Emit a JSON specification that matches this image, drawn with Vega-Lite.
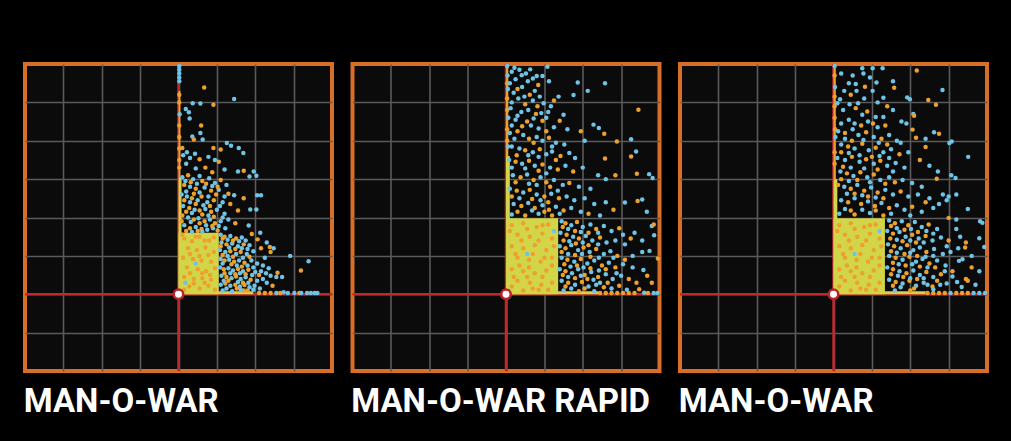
{
"$schema": "https://vega.github.io/schema/vega-lite/v6.json",
"background": "#000000",
"padding": {"left": 21, "top": 60, "right": 24, "bottom": 30},
"spacing": 12.5,
"config": {
  "view": {"fill": "#0b0b0b", "stroke": "#d86f28", "strokeWidth": 4},
  "axis": {"grid": true, "gridColor": "#5a5a5a", "gridWidth": 1.6, "labels": false, "ticks": false, "domain": false, "title": null},
  "title": {"font": "Roboto", "fontSize": 33, "fontWeight": "bold", "color": "#ffffff", "orient": "bottom", "anchor": "start", "offset": 14}
},
"datasets": {
"p1": [
{"x":0.02,"y":5.95,"c":"b"},{"x":0.02,"y":5.85,"c":"b"},{"x":0.02,"y":5.75,"c":"b"},{"x":0.02,"y":5.65,"c":"b"},{"x":0.02,"y":5.55,"c":"b"},{"x":0.03,"y":4.69,"c":"b"},{"x":0.02,"y":5.2,"c":"o"},{"x":0.02,"y":5.0,"c":"o"},{"x":0.02,"y":4.4,"c":"o"},{"x":0.02,"y":4.1,"c":"o"},{"x":0.02,"y":3.8,"c":"o"},{"x":0.02,"y":3.5,"c":"o"},{"x":0.02,"y":3.3,"c":"o"},
{"x":0.67,"y":5.39,"c":"o"},{"x":0.91,"y":4.94,"c":"o"},{"x":1.45,"y":5.09,"c":"b"},{"x":0.37,"y":4.98,"c":"b"},{"x":0.57,"y":4.97,"c":"b"},{"x":0.19,"y":4.83,"c":"b"},{"x":0.27,"y":4.74,"c":"b"},{"x":0.29,"y":4.58,"c":"b"},{"x":0.59,"y":4.40,"c":"o"},{"x":0.36,"y":4.11,"c":"b"},{"x":0.57,"y":4.20,"c":"b"},{"x":0.63,"y":4.03,"c":"b"},{"x":0.40,"y":4.03,"c":"o"},{"x":1.26,"y":3.94,"c":"b"},{"x":1.37,"y":3.87,"c":"b"},{"x":1.57,"y":3.81,"c":"b"},{"x":1.69,"y":3.68,"c":"b"},{"x":1.10,"y":3.77,"c":"o"},{"x":0.91,"y":3.81,"c":"o"},{"x":0.12,"y":3.62,"c":"b"},{"x":0.22,"y":3.70,"c":"b"},{"x":0.43,"y":3.66,"c":"b"},{"x":0.30,"y":3.55,"c":"b"},{"x":0.10,"y":3.81,"c":"o"},{"x":0.55,"y":3.52,"c":"o"},{"x":0.78,"y":3.58,"c":"b"},{"x":0.95,"y":3.50,"c":"b"},{"x":1.05,"y":3.45,"c":"o"},{"x":0.20,"y":3.40,"c":"b"},{"x":0.70,"y":3.30,"c":"o"},{"x":1.20,"y":3.25,"c":"b"},{"x":1.55,"y":3.20,"c":"b"},{"x":1.70,"y":3.22,"c":"o"},{"x":1.96,"y":3.20,"c":"b"},{"x":2.03,"y":3.09,"c":"b"},{"x":1.85,"y":3.07,"c":"b"},{"x":0.45,"y":3.28,"c":"b"},{"x":0.88,"y":3.18,"c":"o"},
{"x":0.10,"y":3.05,"c":"b"},{"x":0.25,"y":3.10,"c":"o"},{"x":0.38,"y":3.00,"c":"b"},{"x":0.55,"y":3.08,"c":"b"},{"x":0.62,"y":2.95,"c":"o"},{"x":0.80,"y":3.02,"c":"b"},{"x":0.95,"y":2.90,"c":"b"},{"x":1.10,"y":2.98,"c":"o"},{"x":1.25,"y":2.85,"c":"b"},{"x":0.15,"y":2.85,"c":"o"},{"x":0.30,"y":2.80,"c":"b"},{"x":0.45,"y":2.75,"c":"o"},{"x":0.68,"y":2.78,"c":"b"},{"x":0.85,"y":2.70,"c":"o"},{"x":1.05,"y":2.72,"c":"b"},{"x":1.30,"y":2.62,"c":"o"},{"x":1.45,"y":2.58,"c":"b"},{"x":2.05,"y":2.58,"c":"b"},{"x":2.15,"y":2.58,"c":"b"},{"x":1.70,"y":2.50,"c":"o"},{"x":0.08,"y":2.60,"c":"b"},{"x":0.22,"y":2.55,"c":"b"},{"x":0.35,"y":2.50,"c":"o"},{"x":0.50,"y":2.45,"c":"b"},{"x":0.60,"y":2.55,"c":"o"},{"x":0.75,"y":2.40,"c":"b"},{"x":0.92,"y":2.45,"c":"o"},{"x":1.15,"y":2.40,"c":"b"},{"x":1.35,"y":2.35,"c":"o"},{"x":0.12,"y":2.30,"c":"b"},{"x":0.28,"y":2.25,"c":"o"},{"x":0.42,"y":2.20,"c":"b"},{"x":0.55,"y":2.18,"c":"o"},{"x":0.70,"y":2.22,"c":"b"},{"x":0.85,"y":2.15,"c":"o"},{"x":1.00,"y":2.20,"c":"b"},{"x":1.20,"y":2.10,"c":"b"},{"x":1.55,"y":2.18,"c":"o"},{"x":1.87,"y":2.21,"c":"b"},{"x":2.03,"y":2.21,"c":"b"},{"x":0.10,"y":2.05,"c":"o"},{"x":0.25,"y":2.00,"c":"b"},{"x":0.40,"y":1.95,"c":"o"},{"x":0.52,"y":1.98,"c":"b"},{"x":0.68,"y":1.90,"c":"o"},{"x":0.82,"y":1.95,"c":"b"},{"x":0.95,"y":1.85,"c":"o"},{"x":1.10,"y":1.90,"c":"b"},{"x":1.30,"y":1.95,"c":"b"},{"x":1.48,"y":1.85,"c":"o"},{"x":1.83,"y":1.79,"c":"b"},{"x":0.15,"y":1.80,"c":"b"},{"x":0.30,"y":1.72,"c":"o"},{"x":0.45,"y":1.75,"c":"b"},{"x":0.60,"y":1.70,"c":"o"},{"x":0.75,"y":1.68,"c":"b"},{"x":0.90,"y":1.72,"c":"b"},{"x":1.02,"y":1.66,"c":"o"},{"x":0.35,"y":1.62,"c":"b"},{"x":0.62,"y":1.63,"c":"b"},{"x":0.20,"y":1.65,"c":"o"},
{"x":0.18,"y":2.95,"c":"b"},{"x":0.32,"y":2.92,"c":"o"},{"x":0.48,"y":2.88,"c":"b"},{"x":0.72,"y":2.88,"c":"o"},{"x":0.88,"y":2.82,"c":"b"},{"x":1.02,"y":2.80,"c":"o"},{"x":0.20,"y":2.68,"c":"b"},{"x":0.40,"y":2.62,"c":"o"},{"x":0.55,"y":2.65,"c":"b"},{"x":0.78,"y":2.55,"c":"b"},{"x":0.98,"y":2.60,"c":"o"},{"x":1.20,"y":2.55,"c":"b"},{"x":0.15,"y":2.45,"c":"o"},{"x":0.30,"y":2.40,"c":"b"},{"x":0.45,"y":2.35,"c":"o"},{"x":0.65,"y":2.32,"c":"b"},{"x":0.82,"y":2.30,"c":"o"},{"x":1.08,"y":2.30,"c":"b"},{"x":0.20,"y":2.15,"c":"o"},{"x":0.35,"y":2.12,"c":"b"},{"x":0.62,"y":2.08,"c":"o"},{"x":0.78,"y":2.05,"c":"b"},{"x":0.92,"y":2.02,"c":"o"},{"x":1.15,"y":2.00,"c":"b"},{"x":0.08,"y":1.90,"c":"o"},{"x":0.32,"y":1.88,"c":"b"},{"x":0.55,"y":1.85,"c":"o"},{"x":0.72,"y":1.80,"c":"b"},{"x":0.88,"y":1.78,"c":"o"},{"x":1.05,"y":1.78,"c":"b"},{"x":1.22,"y":1.72,"c":"b"},{"x":0.50,"y":1.65,"c":"o"},
{"x":1.10,"y":1.55,"c":"b"},{"x":1.20,"y":1.50,"c":"o"},{"x":1.35,"y":1.52,"c":"b"},{"x":1.50,"y":1.45,"c":"o"},{"x":1.65,"y":1.48,"c":"b"},{"x":2.13,"y":1.60,"c":"b"},{"x":1.91,"y":1.57,"c":"o"},{"x":2.06,"y":1.43,"c":"o"},{"x":1.12,"y":1.35,"c":"b"},{"x":1.25,"y":1.30,"c":"o"},{"x":1.40,"y":1.32,"c":"b"},{"x":1.55,"y":1.25,"c":"b"},{"x":1.70,"y":1.30,"c":"o"},{"x":1.85,"y":1.28,"c":"b"},{"x":1.08,"y":1.15,"c":"b"},{"x":1.22,"y":1.10,"c":"b"},{"x":1.35,"y":1.12,"c":"o"},{"x":1.50,"y":1.05,"c":"b"},{"x":1.62,"y":1.10,"c":"o"},{"x":1.78,"y":1.05,"c":"b"},{"x":1.95,"y":1.12,"c":"b"},{"x":2.38,"y":1.23,"c":"o"},{"x":2.40,"y":1.10,"c":"o"},{"x":2.48,"y":1.20,"c":"b"},{"x":1.10,"y":0.92,"c":"b"},{"x":1.20,"y":0.88,"c":"o"},{"x":1.32,"y":0.90,"c":"b"},{"x":1.45,"y":0.85,"c":"o"},{"x":1.58,"y":0.88,"c":"b"},{"x":1.72,"y":0.82,"c":"o"},{"x":1.90,"y":0.88,"c":"b"},{"x":2.05,"y":0.80,"c":"b"},{"x":2.20,"y":0.75,"c":"b"},{"x":2.91,"y":1.00,"c":"b"},{"x":3.39,"y":0.86,"c":"b"},{"x":3.19,"y":0.62,"c":"o"},{"x":1.08,"y":0.70,"c":"b"},{"x":1.18,"y":0.65,"c":"o"},{"x":1.30,"y":0.68,"c":"b"},{"x":1.42,"y":0.62,"c":"b"},{"x":1.55,"y":0.66,"c":"o"},{"x":1.68,"y":0.60,"c":"b"},{"x":1.82,"y":0.64,"c":"o"},{"x":2.00,"y":0.58,"c":"b"},{"x":2.15,"y":0.60,"c":"b"},{"x":2.28,"y":0.55,"c":"b"},{"x":2.58,"y":0.56,"c":"o"},{"x":2.40,"y":0.48,"c":"b"},{"x":2.55,"y":0.45,"c":"b"},{"x":1.12,"y":0.48,"c":"b"},{"x":1.25,"y":0.45,"c":"o"},{"x":1.38,"y":0.42,"c":"b"},{"x":1.50,"y":0.46,"c":"o"},{"x":1.62,"y":0.40,"c":"b"},{"x":1.75,"y":0.44,"c":"b"},{"x":1.88,"y":0.38,"c":"o"},{"x":2.05,"y":0.35,"c":"b"},{"x":2.20,"y":0.40,"c":"b"},{"x":2.70,"y":0.45,"c":"b"},{"x":1.10,"y":0.25,"c":"b"},{"x":1.22,"y":0.28,"c":"o"},{"x":1.35,"y":0.22,"c":"b"},{"x":1.48,"y":0.25,"c":"o"},{"x":1.60,"y":0.20,"c":"b"},{"x":1.72,"y":0.24,"c":"o"},{"x":1.85,"y":0.18,"c":"b"},{"x":1.98,"y":0.22,"c":"b"},{"x":2.45,"y":0.22,"c":"o"},{"x":2.12,"y":0.15,"c":"b"},{"x":1.15,"y":0.10,"c":"b"},{"x":1.40,"y":0.08,"c":"b"},{"x":1.70,"y":0.10,"c":"o"},
{"x":1.15,"y":1.45,"c":"o"},{"x":1.28,"y":1.42,"c":"b"},{"x":1.42,"y":1.40,"c":"o"},{"x":1.58,"y":1.38,"c":"b"},{"x":1.75,"y":1.40,"c":"b"},{"x":1.10,"y":1.25,"c":"o"},{"x":1.32,"y":1.22,"c":"b"},{"x":1.48,"y":1.18,"c":"o"},{"x":1.65,"y":1.20,"c":"b"},{"x":1.80,"y":1.18,"c":"b"},{"x":1.15,"y":1.02,"c":"o"},{"x":1.28,"y":1.00,"c":"b"},{"x":1.42,"y":0.98,"c":"o"},{"x":1.68,"y":0.95,"c":"b"},{"x":1.85,"y":0.98,"c":"o"},{"x":1.15,"y":0.80,"c":"b"},{"x":1.38,"y":0.78,"c":"o"},{"x":1.52,"y":0.75,"c":"b"},{"x":1.65,"y":0.72,"c":"o"},{"x":1.80,"y":0.75,"c":"b"},{"x":1.95,"y":0.70,"c":"b"},{"x":1.20,"y":0.55,"c":"o"},{"x":1.35,"y":0.55,"c":"b"},{"x":1.48,"y":0.52,"c":"o"},{"x":1.60,"y":0.55,"c":"b"},{"x":1.75,"y":0.52,"c":"o"},{"x":1.92,"y":0.50,"c":"b"},{"x":1.18,"y":0.35,"c":"b"},{"x":1.30,"y":0.35,"c":"o"},{"x":1.55,"y":0.32,"c":"b"},{"x":1.68,"y":0.30,"c":"o"},{"x":1.82,"y":0.30,"c":"b"},{"x":1.25,"y":0.15,"c":"b"},{"x":1.52,"y":0.15,"c":"o"},{"x":1.62,"y":0.12,"c":"b"},{"x":1.80,"y":0.10,"c":"o"},{"x":1.95,"y":0.12,"c":"b"},{"x":2.30,"y":0.30,"c":"b"},{"x":2.10,"y":0.50,"c":"o"},{"x":2.35,"y":0.68,"c":"b"},{"x":2.25,"y":0.95,"c":"b"},{"x":2.15,"y":1.20,"c":"o"},{"x":2.30,"y":1.35,"c":"b"},
{"x":2.10,"y":0.03,"c":"o"},{"x":2.25,"y":0.03,"c":"o"},{"x":2.40,"y":0.03,"c":"o"},{"x":2.55,"y":0.03,"c":"b"},{"x":2.65,"y":0.03,"c":"o"},{"x":2.74,"y":0.05,"c":"b"},{"x":2.85,"y":0.03,"c":"b"},{"x":3.02,"y":0.03,"c":"b"},{"x":3.15,"y":0.03,"c":"o"},{"x":3.20,"y":0.03,"c":"b"},{"x":3.35,"y":0.03,"c":"b"},{"x":3.45,"y":0.03,"c":"b"},{"x":3.55,"y":0.03,"c":"b"},{"x":3.62,"y":0.03,"c":"b"},
{"x":0.15,"y":1.45,"c":"o"},{"x":0.35,"y":1.38,"c":"o"},{"x":0.55,"y":1.50,"c":"o"},{"x":0.80,"y":1.40,"c":"o"},{"x":0.25,"y":1.20,"c":"o"},{"x":0.48,"y":1.15,"c":"o"},{"x":0.70,"y":1.22,"c":"o"},{"x":0.92,"y":1.10,"c":"o"},{"x":0.12,"y":0.95,"c":"o"},{"x":0.38,"y":0.92,"c":"o"},{"x":0.60,"y":0.88,"c":"o"},{"x":0.85,"y":0.85,"c":"o"},{"x":0.22,"y":0.70,"c":"o"},{"x":0.50,"y":0.65,"c":"o"},{"x":0.72,"y":0.60,"c":"o"},{"x":0.95,"y":0.68,"c":"o"},{"x":0.15,"y":0.45,"c":"o"},{"x":0.40,"y":0.40,"c":"o"},{"x":0.62,"y":0.42,"c":"o"},{"x":0.85,"y":0.38,"c":"o"},{"x":0.28,"y":0.20,"c":"o"},{"x":0.55,"y":0.15,"c":"o"},{"x":0.78,"y":0.22,"c":"o"},{"x":0.95,"y":0.12,"c":"o"},{"x":0.45,"y":0.80,"c":"b"},{"x":0.18,"y":0.30,"c":"b"},
{"x":0.10,"y":1.55,"c":"o"},{"x":0.45,"y":1.50,"c":"o"},{"x":0.68,"y":1.40,"c":"o"},{"x":0.92,"y":1.48,"c":"o"},{"x":0.30,"y":1.05,"c":"o"},{"x":0.55,"y":1.00,"c":"o"},{"x":0.78,"y":1.02,"c":"o"},{"x":0.30,"y":0.55,"c":"o"},{"x":0.62,"y":0.55,"c":"o"},{"x":0.82,"y":0.50,"c":"o"},{"x":0.40,"y":0.28,"c":"o"},{"x":0.68,"y":0.30,"c":"o"},{"x":0.15,"y":0.12,"c":"o"}
],
"p2": [
{"x":0.03,"y":5.95,"c":"b"},{"x":0.04,"y":5.7,"c":"b"},{"x":0.03,"y":5.5,"c":"o"},{"x":0.05,"y":5.35,"c":"b"},{"x":0.03,"y":5.1,"c":"o"},{"x":0.03,"y":4.8,"c":"o"},{"x":0.06,"y":4.6,"c":"b"},{"x":0.03,"y":4.3,"c":"o"},{"x":0.03,"y":4.0,"c":"o"},{"x":0.05,"y":3.85,"c":"b"},
{"x":0.63,"y":5.86,"c":"b"},{"x":1.08,"y":5.93,"c":"b"},{"x":0.41,"y":5.71,"c":"b"},{"x":0.80,"y":5.69,"c":"b"},{"x":0.95,"y":5.69,"c":"b"},{"x":0.15,"y":5.80,"c":"b"},{"x":0.25,"y":5.60,"c":"b"},{"x":0.57,"y":5.55,"c":"b"},{"x":0.84,"y":5.45,"c":"o"},{"x":1.12,"y":5.55,"c":"b"},{"x":1.87,"y":5.52,"c":"b"},{"x":2.58,"y":5.50,"c":"b"},{"x":2.13,"y":5.30,"c":"b"},{"x":1.76,"y":5.19,"c":"b"},{"x":1.37,"y":5.15,"c":"b"},{"x":0.62,"y":5.20,"c":"o"},{"x":0.20,"y":5.25,"c":"b"},{"x":0.32,"y":5.10,"c":"b"},{"x":0.50,"y":4.95,"c":"o"},{"x":0.70,"y":5.05,"c":"b"},{"x":0.98,"y":4.98,"c":"b"},{"x":1.17,"y":4.90,"c":"b"},{"x":1.25,"y":5.05,"c":"o"},{"x":3.45,"y":4.81,"c":"o"},{"x":0.12,"y":4.85,"c":"b"},{"x":0.40,"y":4.75,"c":"b"},{"x":0.78,"y":4.70,"c":"o"},{"x":0.92,"y":4.72,"c":"b"},{"x":1.05,"y":4.60,"c":"b"},{"x":1.50,"y":4.68,"c":"b"},{"x":1.40,"y":4.52,"c":"o"},{"x":0.25,"y":4.55,"c":"b"},{"x":0.55,"y":4.50,"c":"o"},{"x":0.65,"y":4.40,"c":"b"},{"x":1.25,"y":4.35,"c":"b"},{"x":1.60,"y":4.30,"c":"b"},{"x":2.28,"y":4.42,"c":"b"},{"x":2.42,"y":4.33,"c":"b"},{"x":1.95,"y":4.25,"c":"o"},
{"x":0.10,"y":4.20,"c":"b"},{"x":0.30,"y":4.25,"c":"o"},{"x":0.45,"y":4.15,"c":"b"},{"x":0.60,"y":4.05,"c":"o"},{"x":0.80,"y":4.10,"c":"b"},{"x":0.95,"y":4.00,"c":"b"},{"x":1.12,"y":4.08,"c":"o"},{"x":1.30,"y":3.95,"c":"b"},{"x":1.52,"y":3.90,"c":"b"},{"x":2.05,"y":4.00,"c":"b"},{"x":2.56,"y":4.18,"c":"o"},{"x":2.89,"y":3.98,"c":"o"},{"x":3.26,"y":4.04,"c":"b"},{"x":0.15,"y":3.85,"c":"b"},{"x":0.35,"y":3.80,"c":"b"},{"x":0.50,"y":3.75,"c":"o"},{"x":0.70,"y":3.70,"c":"b"},{"x":0.88,"y":3.78,"c":"o"},{"x":1.05,"y":3.65,"c":"b"},{"x":1.20,"y":3.72,"c":"b"},{"x":1.42,"y":3.60,"c":"o"},{"x":1.65,"y":3.68,"c":"b"},{"x":1.80,"y":3.55,"c":"b"},{"x":2.58,"y":3.54,"c":"o"},{"x":3.26,"y":3.59,"c":"o"},{"x":3.39,"y":3.72,"c":"b"},{"x":0.08,"y":3.50,"c":"b"},{"x":0.25,"y":3.45,"c":"o"},{"x":0.42,"y":3.40,"c":"b"},{"x":0.60,"y":3.48,"c":"o"},{"x":0.75,"y":3.35,"c":"b"},{"x":0.95,"y":3.38,"c":"o"},{"x":1.15,"y":3.30,"c":"b"},{"x":1.35,"y":3.25,"c":"o"},{"x":1.55,"y":3.35,"c":"b"},{"x":1.75,"y":3.20,"c":"o"},{"x":2.00,"y":3.30,"c":"b"},{"x":2.40,"y":3.10,"c":"b"},{"x":2.60,"y":3.00,"c":"b"},{"x":2.85,"y":3.10,"c":"o"},{"x":3.41,"y":3.14,"c":"o"},{"x":3.73,"y":3.13,"c":"b"},{"x":3.82,"y":3.03,"c":"b"},{"x":0.18,"y":3.10,"c":"b"},{"x":0.38,"y":3.05,"c":"o"},{"x":0.55,"y":3.12,"c":"b"},{"x":0.72,"y":2.98,"c":"o"},{"x":0.90,"y":3.05,"c":"b"},{"x":1.05,"y":2.92,"c":"o"},{"x":1.25,"y":2.98,"c":"b"},{"x":1.48,"y":2.85,"c":"b"},{"x":1.65,"y":2.90,"c":"o"},{"x":1.90,"y":2.80,"c":"b"},{"x":2.20,"y":2.75,"c":"b"},{"x":0.10,"y":2.75,"c":"b"},{"x":0.28,"y":2.70,"c":"o"},{"x":0.45,"y":2.65,"c":"b"},{"x":0.62,"y":2.72,"c":"o"},{"x":0.80,"y":2.60,"c":"b"},{"x":1.00,"y":2.55,"c":"o"},{"x":1.18,"y":2.62,"c":"b"},{"x":1.38,"y":2.50,"c":"o"},{"x":1.58,"y":2.55,"c":"b"},{"x":1.78,"y":2.45,"c":"b"},{"x":2.05,"y":2.50,"c":"b"},{"x":2.30,"y":2.35,"c":"b"},{"x":2.60,"y":2.40,"c":"b"},{"x":3.10,"y":2.39,"c":"b"},{"x":3.43,"y":2.43,"c":"o"},{"x":3.55,"y":2.47,"c":"b"},{"x":0.20,"y":2.35,"c":"b"},{"x":0.40,"y":2.30,"c":"o"},{"x":0.58,"y":2.38,"c":"b"},{"x":0.75,"y":2.25,"c":"o"},{"x":0.95,"y":2.32,"c":"b"},{"x":1.12,"y":2.20,"c":"o"},{"x":1.30,"y":2.28,"c":"b"},{"x":1.50,"y":2.18,"c":"o"},{"x":1.70,"y":2.25,"c":"b"},{"x":1.95,"y":2.15,"c":"b"},{"x":2.15,"y":2.10,"c":"o"},{"x":2.45,"y":2.05,"c":"b"},{"x":2.80,"y":2.20,"c":"o"},{"x":3.67,"y":2.15,"c":"b"},{"x":0.15,"y":2.08,"c":"b"},{"x":0.50,"y":2.05,"c":"o"},{"x":0.85,"y":2.10,"c":"b"},{"x":1.20,"y":2.05,"c":"o"},
{"x":0.22,"y":5.90,"c":"b"},{"x":0.35,"y":5.85,"c":"b"},{"x":0.52,"y":5.75,"c":"b"},{"x":0.70,"y":5.62,"c":"b"},{"x":0.10,"y":5.50,"c":"b"},{"x":0.42,"y":5.40,"c":"b"},{"x":0.30,"y":5.35,"c":"o"},{"x":0.75,"y":5.30,"c":"b"},{"x":0.48,"y":5.15,"c":"b"},{"x":0.88,"y":5.15,"c":"b"},{"x":0.15,"y":5.00,"c":"b"},{"x":0.82,"y":4.90,"c":"o"},{"x":0.58,"y":4.80,"c":"b"},{"x":1.10,"y":4.75,"c":"b"},{"x":0.30,"y":4.65,"c":"b"},{"x":0.72,"y":4.58,"c":"b"},{"x":0.95,"y":4.52,"c":"o"},{"x":0.15,"y":4.40,"c":"b"},{"x":0.42,"y":4.38,"c":"o"},{"x":0.85,"y":4.32,"c":"b"},{"x":1.05,"y":4.25,"c":"o"},{"x":0.22,"y":4.05,"c":"b"},{"x":0.72,"y":3.95,"c":"o"},{"x":1.20,"y":3.85,"c":"b"},{"x":0.28,"y":3.62,"c":"o"},{"x":0.58,"y":3.62,"c":"b"},{"x":0.85,"y":3.58,"c":"b"},{"x":1.30,"y":3.50,"c":"o"},{"x":0.15,"y":3.30,"c":"b"},{"x":0.50,"y":3.28,"c":"b"},{"x":0.85,"y":3.22,"c":"o"},{"x":1.05,"y":3.15,"c":"b"},{"x":0.25,"y":2.92,"c":"o"},{"x":0.60,"y":2.88,"c":"b"},{"x":0.80,"y":2.85,"c":"b"},{"x":1.15,"y":2.80,"c":"o"},{"x":1.35,"y":2.70,"c":"b"},{"x":0.15,"y":2.55,"c":"o"},{"x":0.35,"y":2.50,"c":"b"},{"x":0.68,"y":2.48,"c":"o"},{"x":0.90,"y":2.45,"c":"b"},{"x":1.10,"y":2.40,"c":"o"},{"x":0.30,"y":2.15,"c":"o"},{"x":0.68,"y":2.18,"c":"b"},{"x":1.00,"y":2.15,"c":"o"},{"x":1.40,"y":2.10,"c":"b"},
{"x":1.45,"y":1.90,"c":"b"},{"x":1.55,"y":1.85,"c":"o"},{"x":1.70,"y":1.80,"c":"b"},{"x":1.85,"y":1.88,"c":"o"},{"x":2.00,"y":1.75,"c":"b"},{"x":2.20,"y":1.82,"c":"b"},{"x":2.35,"y":1.70,"c":"o"},{"x":2.55,"y":1.78,"c":"b"},{"x":2.75,"y":1.65,"c":"b"},{"x":2.95,"y":1.72,"c":"o"},{"x":3.35,"y":1.60,"c":"b"},{"x":3.80,"y":1.78,"c":"b"},{"x":3.85,"y":1.82,"c":"o"},{"x":3.86,"y":1.54,"c":"b"},{"x":1.42,"y":1.60,"c":"b"},{"x":1.58,"y":1.55,"c":"o"},{"x":1.75,"y":1.50,"c":"b"},{"x":1.90,"y":1.45,"c":"o"},{"x":2.08,"y":1.52,"c":"b"},{"x":2.25,"y":1.40,"c":"b"},{"x":2.45,"y":1.48,"c":"o"},{"x":2.62,"y":1.35,"c":"b"},{"x":2.85,"y":1.40,"c":"b"},{"x":3.10,"y":1.30,"c":"b"},{"x":1.40,"y":1.25,"c":"b"},{"x":1.55,"y":1.20,"c":"o"},{"x":1.70,"y":1.28,"c":"b"},{"x":1.88,"y":1.15,"c":"b"},{"x":2.02,"y":1.22,"c":"o"},{"x":2.18,"y":1.10,"c":"b"},{"x":2.35,"y":1.18,"c":"o"},{"x":2.55,"y":1.05,"c":"b"},{"x":2.72,"y":1.12,"c":"b"},{"x":2.90,"y":1.00,"c":"o"},{"x":3.74,"y":1.13,"c":"b"},{"x":3.55,"y":1.10,"c":"b"},{"x":3.30,"y":1.00,"c":"b"},{"x":3.96,"y":0.93,"c":"o"},{"x":1.45,"y":0.95,"c":"b"},{"x":1.60,"y":0.90,"c":"o"},{"x":1.78,"y":0.85,"c":"b"},{"x":1.95,"y":0.92,"c":"o"},{"x":2.12,"y":0.80,"c":"b"},{"x":2.30,"y":0.88,"c":"b"},{"x":2.50,"y":0.75,"c":"o"},{"x":2.68,"y":0.82,"c":"b"},{"x":2.85,"y":0.70,"c":"o"},{"x":3.05,"y":0.78,"c":"b"},{"x":1.40,"y":0.65,"c":"b"},{"x":1.55,"y":0.60,"c":"o"},{"x":1.72,"y":0.55,"c":"b"},{"x":1.88,"y":0.65,"c":"b"},{"x":2.05,"y":0.50,"c":"o"},{"x":2.22,"y":0.58,"c":"b"},{"x":2.40,"y":0.45,"c":"o"},{"x":2.60,"y":0.52,"c":"b"},{"x":2.78,"y":0.40,"c":"b"},{"x":3.00,"y":0.48,"c":"b"},{"x":3.20,"y":0.40,"c":"o"},{"x":3.58,"y":0.63,"c":"b"},{"x":3.68,"y":0.48,"c":"o"},{"x":3.80,"y":0.30,"c":"o"},{"x":1.45,"y":0.35,"c":"b"},{"x":1.62,"y":0.30,"c":"o"},{"x":1.80,"y":0.25,"c":"b"},{"x":1.98,"y":0.32,"c":"o"},{"x":2.15,"y":0.20,"c":"b"},{"x":2.35,"y":0.25,"c":"b"},{"x":2.55,"y":0.18,"c":"o"},{"x":2.75,"y":0.15,"c":"b"},{"x":2.95,"y":0.22,"c":"o"},{"x":3.15,"y":0.12,"c":"b"},{"x":3.47,"y":0.13,"c":"o"},{"x":1.50,"y":0.10,"c":"b"},{"x":1.90,"y":0.08,"c":"o"},{"x":2.30,"y":0.08,"c":"b"},
{"x":1.48,"y":1.75,"c":"o"},{"x":1.62,"y":1.70,"c":"b"},{"x":1.80,"y":1.65,"c":"o"},{"x":1.95,"y":1.62,"c":"b"},{"x":2.15,"y":1.60,"c":"o"},{"x":2.40,"y":1.60,"c":"b"},{"x":1.50,"y":1.40,"c":"o"},{"x":1.65,"y":1.38,"c":"b"},{"x":1.82,"y":1.32,"c":"o"},{"x":2.00,"y":1.35,"c":"b"},{"x":2.15,"y":1.28,"c":"o"},{"x":2.40,"y":1.30,"c":"b"},{"x":1.45,"y":1.10,"c":"o"},{"x":1.62,"y":1.05,"c":"b"},{"x":1.80,"y":1.02,"c":"o"},{"x":1.98,"y":1.05,"c":"b"},{"x":2.20,"y":0.98,"c":"o"},{"x":2.42,"y":0.95,"c":"b"},{"x":1.52,"y":0.78,"c":"o"},{"x":1.68,"y":0.72,"c":"b"},{"x":1.85,"y":0.75,"c":"o"},{"x":2.02,"y":0.70,"c":"b"},{"x":2.20,"y":0.68,"c":"o"},{"x":2.42,"y":0.62,"c":"b"},{"x":1.48,"y":0.50,"c":"o"},{"x":1.62,"y":0.45,"c":"b"},{"x":1.80,"y":0.42,"c":"o"},{"x":1.95,"y":0.48,"c":"b"},{"x":2.12,"y":0.40,"c":"o"},{"x":2.28,"y":0.38,"c":"b"},{"x":1.55,"y":0.20,"c":"o"},{"x":1.70,"y":0.15,"c":"b"},{"x":2.05,"y":0.15,"c":"o"},{"x":2.45,"y":0.30,"c":"b"},{"x":2.65,"y":0.30,"c":"o"},{"x":2.88,"y":0.55,"c":"b"},{"x":2.60,"y":0.65,"c":"o"},{"x":2.80,"y":0.95,"c":"b"},{"x":3.10,"y":0.90,"c":"o"},{"x":3.05,"y":1.55,"c":"b"},{"x":3.25,"y":1.45,"c":"o"},{"x":3.55,"y":1.40,"c":"b"},{"x":3.30,"y":0.70,"c":"b"},{"x":3.40,"y":0.30,"c":"o"},
{"x":2.45,"y":0.03,"c":"o"},{"x":2.60,"y":0.03,"c":"o"},{"x":2.75,"y":0.03,"c":"o"},{"x":2.90,"y":0.03,"c":"o"},{"x":3.05,"y":0.03,"c":"o"},{"x":3.20,"y":0.03,"c":"o"},{"x":3.35,"y":0.03,"c":"o"},{"x":3.60,"y":0.04,"c":"b"},{"x":3.70,"y":0.03,"c":"o"},{"x":3.85,"y":0.03,"c":"b"},{"x":3.95,"y":0.03,"c":"b"},
{"x":0.15,"y":1.80,"c":"o"},{"x":0.45,"y":1.85,"c":"o"},{"x":0.80,"y":1.75,"c":"o"},{"x":1.10,"y":1.82,"c":"o"},{"x":0.30,"y":1.55,"c":"o"},{"x":0.62,"y":1.50,"c":"o"},{"x":0.95,"y":1.58,"c":"o"},{"x":1.20,"y":1.45,"c":"o"},{"x":0.15,"y":1.25,"c":"o"},{"x":0.45,"y":1.20,"c":"o"},{"x":0.75,"y":1.28,"c":"o"},{"x":1.05,"y":1.15,"c":"o"},{"x":0.30,"y":0.95,"c":"o"},{"x":0.60,"y":0.90,"c":"o"},{"x":0.90,"y":0.85,"c":"o"},{"x":1.20,"y":0.95,"c":"o"},{"x":0.15,"y":0.65,"c":"o"},{"x":0.45,"y":0.60,"c":"o"},{"x":0.75,"y":0.55,"c":"o"},{"x":1.05,"y":0.62,"c":"o"},{"x":0.30,"y":0.35,"c":"o"},{"x":0.62,"y":0.30,"c":"o"},{"x":0.92,"y":0.25,"c":"o"},{"x":1.20,"y":0.30,"c":"o"},{"x":0.45,"y":0.10,"c":"o"},{"x":0.85,"y":0.12,"c":"o"},{"x":0.55,"y":1.05,"c":"b"},{"x":1.25,"y":1.65,"c":"b"},
{"x":0.10,"y":1.65,"c":"o"},{"x":0.55,"y":1.70,"c":"o"},{"x":0.95,"y":1.80,"c":"o"},{"x":0.40,"y":1.40,"c":"o"},{"x":0.85,"y":1.40,"c":"o"},{"x":1.25,"y":1.25,"c":"o"},{"x":0.25,"y":1.05,"c":"o"},{"x":0.70,"y":1.05,"c":"o"},{"x":1.00,"y":0.95,"c":"o"},{"x":0.35,"y":0.75,"c":"o"},{"x":0.60,"y":0.70,"c":"o"},{"x":1.20,"y":0.75,"c":"o"},{"x":0.20,"y":0.45,"c":"o"},{"x":0.55,"y":0.45,"c":"o"},{"x":0.95,"y":0.45,"c":"o"},{"x":0.15,"y":0.20,"c":"o"},{"x":0.70,"y":0.15,"c":"o"},{"x":1.10,"y":0.12,"c":"o"}
],
"p3": [
{"x":0.03,"y":5.95,"c":"b"},{"x":0.03,"y":5.7,"c":"o"},{"x":0.04,"y":5.4,"c":"b"},{"x":0.03,"y":5.15,"c":"o"},{"x":0.03,"y":4.9,"c":"o"},{"x":0.03,"y":4.6,"c":"o"},{"x":0.04,"y":4.3,"c":"o"},{"x":0.05,"y":4.1,"c":"b"},{"x":0.03,"y":3.7,"c":"o"},{"x":0.03,"y":3.4,"c":"o"},
{"x":0.75,"y":5.89,"c":"b"},{"x":1.02,"y":5.89,"c":"b"},{"x":1.28,"y":5.89,"c":"b"},{"x":2.17,"y":5.83,"c":"o"},{"x":0.78,"y":5.75,"c":"b"},{"x":0.40,"y":5.50,"c":"b"},{"x":0.58,"y":5.48,"c":"b"},{"x":0.82,"y":5.41,"c":"o"},{"x":1.12,"y":5.52,"c":"b"},{"x":1.55,"y":5.55,"c":"b"},{"x":2.84,"y":5.32,"c":"b"},{"x":1.58,"y":5.38,"c":"o"},{"x":0.60,"y":5.30,"c":"b"},{"x":1.02,"y":5.30,"c":"b"},{"x":1.30,"y":5.12,"c":"b"},{"x":1.99,"y":5.08,"c":"b"},{"x":1.92,"y":5.13,"c":"b"},{"x":2.47,"y":5.06,"c":"o"},{"x":2.67,"y":4.94,"c":"o"},{"x":0.17,"y":5.08,"c":"b"},{"x":0.10,"y":4.98,"c":"b"},{"x":0.25,"y":4.80,"c":"b"},{"x":0.58,"y":4.85,"c":"o"},{"x":0.88,"y":4.76,"c":"o"},{"x":0.64,"y":4.98,"c":"b"},{"x":0.90,"y":4.50,"c":"b"},{"x":1.03,"y":4.45,"c":"o"},{"x":2.08,"y":4.70,"c":"b"},{"x":2.10,"y":4.65,"c":"o"},{"x":1.55,"y":4.80,"c":"b"},{"x":1.77,"y":4.50,"c":"b"},{"x":1.90,"y":4.45,"c":"b"},{"x":1.30,"y":4.62,"c":"b"},{"x":0.40,"y":4.55,"c":"b"},{"x":0.72,"y":4.40,"c":"o"},{"x":1.15,"y":4.35,"c":"b"},
{"x":2.06,"y":4.29,"c":"o"},{"x":0.12,"y":4.25,"c":"b"},{"x":0.30,"y":4.20,"c":"o"},{"x":0.50,"y":4.30,"c":"b"},{"x":0.65,"y":4.15,"c":"b"},{"x":0.85,"y":4.22,"c":"o"},{"x":1.05,"y":4.10,"c":"b"},{"x":1.25,"y":4.05,"c":"o"},{"x":1.45,"y":4.15,"c":"b"},{"x":1.65,"y":4.00,"c":"b"},{"x":2.15,"y":4.08,"c":"o"},{"x":2.62,"y":4.22,"c":"b"},{"x":2.75,"y":4.18,"c":"o"},{"x":2.40,"y":4.05,"c":"b"},{"x":3.02,"y":3.94,"c":"b"},{"x":3.08,"y":3.98,"c":"b"},{"x":2.40,"y":3.84,"c":"o"},{"x":3.51,"y":3.58,"c":"b"},{"x":0.20,"y":3.90,"c":"b"},{"x":0.38,"y":3.85,"c":"o"},{"x":0.55,"y":3.80,"c":"b"},{"x":0.75,"y":3.92,"c":"o"},{"x":0.92,"y":3.75,"c":"b"},{"x":1.10,"y":3.82,"c":"o"},{"x":1.30,"y":3.70,"c":"b"},{"x":1.50,"y":3.78,"c":"b"},{"x":1.72,"y":3.65,"c":"o"},{"x":1.95,"y":3.70,"c":"b"},{"x":0.10,"y":3.55,"c":"b"},{"x":0.30,"y":3.50,"c":"b"},{"x":0.48,"y":3.58,"c":"o"},{"x":0.68,"y":3.45,"c":"b"},{"x":0.85,"y":3.52,"c":"o"},{"x":1.05,"y":3.40,"c":"b"},{"x":1.22,"y":3.48,"c":"o"},{"x":1.40,"y":3.35,"c":"b"},{"x":1.62,"y":3.42,"c":"b"},{"x":1.85,"y":3.30,"c":"b"},{"x":2.25,"y":3.50,"c":"o"},{"x":2.50,"y":3.35,"c":"b"},{"x":2.72,"y":3.20,"c":"b"},{"x":2.69,"y":3.01,"c":"o"},{"x":3.07,"y":3.10,"c":"b"},{"x":3.18,"y":3.03,"c":"b"},{"x":0.18,"y":3.20,"c":"b"},{"x":0.35,"y":3.15,"c":"o"},{"x":0.52,"y":3.08,"c":"b"},{"x":0.70,"y":3.18,"c":"o"},{"x":0.88,"y":3.05,"c":"b"},{"x":1.05,"y":3.12,"c":"o"},{"x":1.22,"y":2.98,"c":"b"},{"x":1.45,"y":3.05,"c":"b"},{"x":1.60,"y":2.92,"c":"o"},{"x":1.80,"y":2.98,"c":"b"},{"x":2.05,"y":2.90,"c":"b"},{"x":2.30,"y":2.80,"c":"b"},{"x":0.12,"y":2.85,"c":"o"},{"x":0.28,"y":2.80,"c":"b"},{"x":0.45,"y":2.75,"c":"o"},{"x":0.62,"y":2.85,"c":"b"},{"x":0.80,"y":2.70,"c":"o"},{"x":0.98,"y":2.78,"c":"b"},{"x":1.15,"y":2.65,"c":"o"},{"x":1.35,"y":2.72,"c":"b"},{"x":1.55,"y":2.60,"c":"b"},{"x":1.75,"y":2.68,"c":"o"},{"x":1.95,"y":2.55,"c":"b"},{"x":2.20,"y":2.60,"c":"b"},{"x":2.50,"y":2.50,"c":"b"},{"x":2.85,"y":2.60,"c":"b"},{"x":3.00,"y":2.55,"c":"b"},{"x":2.95,"y":2.45,"c":"b"},{"x":3.20,"y":2.60,"c":"b"},{"x":0.20,"y":2.45,"c":"b"},{"x":0.38,"y":2.40,"c":"o"},{"x":0.55,"y":2.50,"c":"b"},{"x":0.72,"y":2.35,"c":"o"},{"x":0.90,"y":2.42,"c":"b"},{"x":1.08,"y":2.30,"c":"o"},{"x":1.25,"y":2.38,"c":"b"},{"x":1.45,"y":2.25,"c":"o"},{"x":1.65,"y":2.32,"c":"b"},{"x":1.85,"y":2.20,"c":"b"},{"x":2.05,"y":2.28,"c":"o"},{"x":2.30,"y":2.15,"c":"b"},{"x":2.60,"y":2.25,"c":"b"},{"x":3.50,"y":2.22,"c":"b"},{"x":0.15,"y":2.10,"c":"b"},{"x":0.55,"y":2.08,"c":"o"},{"x":0.95,"y":2.12,"c":"b"},{"x":1.30,"y":2.05,"c":"o"},
{"x":0.20,"y":5.75,"c":"b"},{"x":0.50,"y":5.70,"c":"b"},{"x":0.95,"y":5.65,"c":"b"},{"x":0.28,"y":5.30,"c":"b"},{"x":0.45,"y":5.20,"c":"o"},{"x":0.80,"y":5.10,"c":"b"},{"x":1.15,"y":5.00,"c":"b"},{"x":0.42,"y":4.95,"c":"b"},{"x":1.40,"y":4.90,"c":"o"},{"x":0.75,"y":4.68,"c":"b"},{"x":1.10,"y":4.62,"c":"b"},{"x":0.20,"y":4.45,"c":"b"},{"x":0.55,"y":4.45,"c":"b"},{"x":1.35,"y":4.40,"c":"o"},{"x":0.30,"y":4.05,"c":"b"},{"x":0.48,"y":4.00,"c":"o"},{"x":0.78,"y":4.02,"c":"b"},{"x":1.18,"y":3.95,"c":"b"},{"x":1.40,"y":3.90,"c":"o"},{"x":1.75,"y":3.95,"c":"b"},{"x":0.20,"y":3.70,"c":"o"},{"x":0.40,"y":3.68,"c":"b"},{"x":0.68,"y":3.62,"c":"b"},{"x":1.00,"y":3.58,"c":"o"},{"x":1.20,"y":3.60,"c":"b"},{"x":1.45,"y":3.55,"c":"b"},{"x":0.25,"y":3.32,"c":"o"},{"x":0.45,"y":3.30,"c":"b"},{"x":0.80,"y":3.28,"c":"b"},{"x":1.15,"y":3.25,"c":"o"},{"x":1.55,"y":3.20,"c":"b"},{"x":0.20,"y":3.00,"c":"o"},{"x":0.40,"y":2.95,"c":"b"},{"x":0.62,"y":2.98,"c":"o"},{"x":0.95,"y":2.92,"c":"b"},{"x":1.35,"y":2.88,"c":"o"},{"x":0.35,"y":2.62,"c":"b"},{"x":0.55,"y":2.62,"c":"o"},{"x":0.75,"y":2.58,"c":"b"},{"x":0.90,"y":2.55,"c":"o"},{"x":1.10,"y":2.52,"c":"b"},{"x":1.30,"y":2.50,"c":"o"},{"x":0.30,"y":2.22,"c":"b"},{"x":0.45,"y":2.18,"c":"o"},{"x":0.75,"y":2.20,"c":"b"},{"x":1.10,"y":2.18,"c":"o"},{"x":1.50,"y":2.10,"c":"b"},{"x":2.00,"y":2.05,"c":"b"},{"x":2.40,"y":2.40,"c":"o"},{"x":2.75,"y":2.35,"c":"b"},
{"x":1.45,"y":1.92,"c":"b"},{"x":1.60,"y":1.85,"c":"o"},{"x":1.78,"y":1.90,"c":"b"},{"x":1.95,"y":1.80,"c":"o"},{"x":2.12,"y":1.88,"c":"b"},{"x":2.30,"y":1.75,"c":"b"},{"x":2.48,"y":1.82,"c":"o"},{"x":2.70,"y":1.70,"c":"b"},{"x":3.00,"y":1.99,"c":"o"},{"x":3.20,"y":1.95,"c":"b"},{"x":3.20,"y":1.70,"c":"b"},{"x":3.82,"y":1.90,"c":"b"},{"x":3.88,"y":1.86,"c":"b"},{"x":1.40,"y":1.65,"c":"b"},{"x":1.55,"y":1.58,"c":"o"},{"x":1.72,"y":1.62,"c":"b"},{"x":1.88,"y":1.50,"c":"b"},{"x":2.05,"y":1.55,"c":"o"},{"x":2.22,"y":1.45,"c":"b"},{"x":2.40,"y":1.52,"c":"o"},{"x":2.58,"y":1.40,"c":"b"},{"x":2.80,"y":1.48,"c":"b"},{"x":3.45,"y":1.35,"c":"o"},{"x":3.43,"y":1.22,"c":"o"},{"x":3.80,"y":1.46,"c":"b"},{"x":3.93,"y":1.23,"c":"b"},{"x":1.42,"y":1.30,"c":"b"},{"x":1.58,"y":1.25,"c":"o"},{"x":1.75,"y":1.20,"c":"b"},{"x":1.92,"y":1.28,"c":"o"},{"x":2.08,"y":1.15,"c":"b"},{"x":2.25,"y":1.22,"c":"b"},{"x":2.42,"y":1.10,"c":"o"},{"x":2.62,"y":1.18,"c":"b"},{"x":2.85,"y":1.05,"c":"b"},{"x":3.05,"y":1.10,"c":"b"},{"x":1.45,"y":1.00,"c":"b"},{"x":1.62,"y":0.95,"c":"o"},{"x":1.80,"y":0.90,"c":"b"},{"x":1.98,"y":0.98,"c":"o"},{"x":2.15,"y":0.85,"c":"b"},{"x":2.32,"y":0.92,"c":"b"},{"x":2.50,"y":0.80,"c":"o"},{"x":2.70,"y":0.88,"c":"b"},{"x":2.92,"y":0.75,"c":"b"},{"x":3.27,"y":0.87,"c":"b"},{"x":3.36,"y":0.91,"c":"b"},{"x":3.80,"y":0.60,"c":"b"},{"x":1.40,"y":0.70,"c":"b"},{"x":1.55,"y":0.65,"c":"o"},{"x":1.72,"y":0.60,"c":"b"},{"x":1.90,"y":0.55,"c":"o"},{"x":2.08,"y":0.62,"c":"b"},{"x":2.25,"y":0.50,"c":"b"},{"x":2.42,"y":0.58,"c":"o"},{"x":2.60,"y":0.45,"c":"b"},{"x":2.80,"y":0.52,"c":"o"},{"x":3.10,"y":0.46,"c":"b"},{"x":3.10,"y":0.60,"c":"o"},{"x":3.45,"y":0.40,"c":"o"},{"x":3.50,"y":0.35,"c":"o"},{"x":1.45,"y":0.38,"c":"b"},{"x":1.62,"y":0.32,"c":"o"},{"x":1.80,"y":0.28,"c":"b"},{"x":1.98,"y":0.35,"c":"o"},{"x":2.15,"y":0.22,"c":"b"},{"x":2.35,"y":0.30,"c":"b"},{"x":2.58,"y":0.20,"c":"o"},{"x":2.78,"y":0.25,"c":"b"},{"x":2.95,"y":0.28,"c":"b"},{"x":3.34,"y":0.19,"c":"b"},{"x":3.22,"y":0.32,"c":"b"},{"x":2.60,"y":0.13,"c":"b"},{"x":1.60,"y":0.10,"c":"b"},{"x":2.00,"y":0.10,"c":"o"},
{"x":1.50,"y":1.78,"c":"o"},{"x":1.65,"y":1.72,"c":"b"},{"x":1.85,"y":1.68,"c":"o"},{"x":2.02,"y":1.70,"c":"b"},{"x":2.20,"y":1.62,"c":"o"},{"x":2.42,"y":1.65,"c":"b"},{"x":2.60,"y":1.58,"c":"b"},{"x":1.48,"y":1.45,"c":"o"},{"x":1.65,"y":1.42,"c":"b"},{"x":1.80,"y":1.38,"c":"o"},{"x":2.00,"y":1.40,"c":"b"},{"x":2.15,"y":1.35,"c":"o"},{"x":2.35,"y":1.35,"c":"b"},{"x":1.50,"y":1.12,"c":"o"},{"x":1.65,"y":1.08,"c":"b"},{"x":1.85,"y":1.05,"c":"o"},{"x":2.00,"y":1.08,"c":"b"},{"x":2.18,"y":1.00,"c":"o"},{"x":2.40,"y":0.98,"c":"b"},{"x":2.60,"y":1.00,"c":"b"},{"x":1.55,"y":0.82,"c":"o"},{"x":1.70,"y":0.78,"c":"b"},{"x":1.88,"y":0.75,"c":"o"},{"x":2.05,"y":0.78,"c":"b"},{"x":2.25,"y":0.72,"c":"o"},{"x":2.45,"y":0.70,"c":"b"},{"x":1.50,"y":0.52,"c":"o"},{"x":1.68,"y":0.48,"c":"b"},{"x":1.82,"y":0.45,"c":"o"},{"x":2.00,"y":0.42,"c":"b"},{"x":2.18,"y":0.40,"c":"o"},{"x":2.35,"y":0.42,"c":"b"},{"x":1.55,"y":0.22,"c":"o"},{"x":1.75,"y":0.18,"c":"b"},{"x":2.10,"y":0.15,"c":"o"},{"x":2.45,"y":0.25,"c":"b"},{"x":2.70,"y":0.35,"c":"o"},{"x":2.90,"y":0.60,"c":"b"},{"x":2.65,"y":0.70,"c":"o"},{"x":2.95,"y":1.25,"c":"b"},{"x":3.00,"y":1.40,"c":"o"},{"x":3.30,"y":1.50,"c":"b"},{"x":3.25,"y":1.20,"c":"b"},{"x":3.60,"y":1.00,"c":"b"},{"x":3.60,"y":0.70,"c":"o"},{"x":3.70,"y":0.25,"c":"b"},
{"x":2.45,"y":0.03,"c":"o"},{"x":2.60,"y":0.03,"c":"o"},{"x":2.75,"y":0.03,"c":"o"},{"x":2.90,"y":0.03,"c":"o"},{"x":3.05,"y":0.03,"c":"b"},{"x":3.20,"y":0.03,"c":"o"},{"x":3.35,"y":0.03,"c":"o"},{"x":3.50,"y":0.03,"c":"o"},{"x":3.65,"y":0.03,"c":"b"},{"x":3.80,"y":0.03,"c":"b"},{"x":3.95,"y":0.03,"c":"b"},
{"x":0.15,"y":1.80,"c":"o"},{"x":0.45,"y":1.85,"c":"o"},{"x":0.80,"y":1.75,"c":"o"},{"x":1.10,"y":1.82,"c":"o"},{"x":0.30,"y":1.55,"c":"o"},{"x":0.62,"y":1.50,"c":"o"},{"x":0.95,"y":1.58,"c":"o"},{"x":1.20,"y":1.45,"c":"o"},{"x":0.15,"y":1.25,"c":"o"},{"x":0.45,"y":1.20,"c":"o"},{"x":0.75,"y":1.28,"c":"o"},{"x":1.05,"y":1.15,"c":"o"},{"x":0.30,"y":0.95,"c":"o"},{"x":0.60,"y":0.90,"c":"o"},{"x":0.90,"y":0.85,"c":"o"},{"x":1.20,"y":0.95,"c":"o"},{"x":0.15,"y":0.65,"c":"o"},{"x":0.45,"y":0.60,"c":"o"},{"x":0.75,"y":0.55,"c":"o"},{"x":1.05,"y":0.62,"c":"o"},{"x":0.30,"y":0.35,"c":"o"},{"x":0.62,"y":0.30,"c":"o"},{"x":0.92,"y":0.25,"c":"o"},{"x":1.20,"y":0.30,"c":"o"},{"x":0.45,"y":0.10,"c":"o"},{"x":0.85,"y":0.12,"c":"o"},{"x":0.55,"y":1.05,"c":"b"},{"x":1.20,"y":1.65,"c":"b"},
{"x":0.10,"y":1.65,"c":"o"},{"x":0.55,"y":1.70,"c":"o"},{"x":0.95,"y":1.80,"c":"o"},{"x":0.40,"y":1.40,"c":"o"},{"x":0.85,"y":1.40,"c":"o"},{"x":1.25,"y":1.25,"c":"o"},{"x":0.25,"y":1.05,"c":"o"},{"x":0.70,"y":1.05,"c":"o"},{"x":1.00,"y":0.95,"c":"o"},{"x":0.35,"y":0.75,"c":"o"},{"x":0.60,"y":0.70,"c":"o"},{"x":1.20,"y":0.75,"c":"o"},{"x":0.20,"y":0.45,"c":"o"},{"x":0.55,"y":0.45,"c":"o"},{"x":0.95,"y":0.45,"c":"o"},{"x":0.15,"y":0.20,"c":"o"},{"x":0.70,"y":0.15,"c":"o"},{"x":1.10,"y":0.12,"c":"o"}
]
},
"hconcat": [
{
 "width": 307, "height": 307,
 "title": {"text": "MAN-O-WAR"},
 "layer": [
  {"data": {"values": [{"v": 0}]}, "mark": {"type": "rule", "color": "#c1272d", "strokeWidth": 2.5},
   "encoding": {"x": {"field": "v", "type": "quantitative", "scale": {"domain": [-4, 4], "nice": false, "zero": false}, "axis": {"values": [-3, -2, -1, 0, 1, 2, 3]}}}},
  {"data": {"values": [{"v": 0}]}, "mark": {"type": "rule", "color": "#c1272d", "strokeWidth": 2.5},
   "encoding": {"y": {"field": "v", "type": "quantitative", "scale": {"domain": [-2, 6], "nice": false, "zero": false}, "axis": {"values": [-1, 0, 1, 2, 3, 4, 5]}}}},
  {"data": {"values": [{"x1": 0, "x2": 1.05, "y1": 0, "y2": 1.6, "k": "y"}, {"x1": 0, "x2": 0.08, "y1": 0, "y2": 3.05, "k": "y"}, {"x1": 0, "x2": 1.95, "y1": 0, "y2": 0.08, "k": "y"}, {"x1": 0, "x2": 0.05, "y1": 3.05, "y2": 5.3, "k": "o"}]},
   "mark": {"type": "rect", "opacity": 1},
   "encoding": {"x": {"field": "x1", "type": "quantitative"}, "x2": {"field": "x2"}, "y": {"field": "y1", "type": "quantitative"}, "y2": {"field": "y2"},
    "color": {"field": "k", "type": "nominal", "scale": {"domain": ["b", "o", "y"], "range": ["#6ec3e6", "#eca12e", "#d3d548"]}, "legend": null}}},
  {"data": {"name": "p1"}, "mark": {"type": "circle", "size": 20, "opacity": 1},
   "encoding": {"x": {"field": "x", "type": "quantitative"}, "y": {"field": "y", "type": "quantitative"},
    "color": {"field": "c", "type": "nominal", "scale": {"domain": ["b", "o", "y"], "range": ["#6ec3e6", "#eca12e", "#d3d548"]}, "legend": null}}},
  {"data": {"values": [{"x": 0, "y": 0}]}, "mark": {"type": "point", "shape": "circle", "filled": false, "fill": "#ffffff", "stroke": "#b8252b", "strokeWidth": 2.5, "size": 90, "opacity": 1},
   "encoding": {"x": {"field": "x", "type": "quantitative"}, "y": {"field": "y", "type": "quantitative"}}}
 ]
},
{
 "width": 307, "height": 307,
 "title": {"text": "MAN-O-WAR RAPID"},
 "layer": [
  {"data": {"values": [{"v": 0}]}, "mark": {"type": "rule", "color": "#c1272d", "strokeWidth": 2.5},
   "encoding": {"x": {"field": "v", "type": "quantitative", "scale": {"domain": [-4, 4], "nice": false, "zero": false}, "axis": {"values": [-3, -2, -1, 0, 1, 2, 3]}}}},
  {"data": {"values": [{"v": 0}]}, "mark": {"type": "rule", "color": "#c1272d", "strokeWidth": 2.5},
   "encoding": {"y": {"field": "v", "type": "quantitative", "scale": {"domain": [-2, 6], "nice": false, "zero": false}, "axis": {"values": [-1, 0, 1, 2, 3, 4, 5]}}}},
  {"data": {"values": [{"x1": 0, "x2": 1.36, "y1": 0, "y2": 1.98, "k": "y"}, {"x1": 0, "x2": 0.1, "y1": 0, "y2": 3.6, "k": "y"}, {"x1": 0, "x2": 2.4, "y1": 0, "y2": 0.08, "k": "y"}, {"x1": 0, "x2": 0.06, "y1": 3.6, "y2": 6, "k": "o"}]},
   "mark": {"type": "rect", "opacity": 1},
   "encoding": {"x": {"field": "x1", "type": "quantitative"}, "x2": {"field": "x2"}, "y": {"field": "y1", "type": "quantitative"}, "y2": {"field": "y2"},
    "color": {"field": "k", "type": "nominal", "scale": {"domain": ["b", "o", "y"], "range": ["#6ec3e6", "#eca12e", "#d3d548"]}, "legend": null}}},
  {"data": {"name": "p2"}, "mark": {"type": "circle", "size": 20, "opacity": 1},
   "encoding": {"x": {"field": "x", "type": "quantitative"}, "y": {"field": "y", "type": "quantitative"},
    "color": {"field": "c", "type": "nominal", "scale": {"domain": ["b", "o", "y"], "range": ["#6ec3e6", "#eca12e", "#d3d548"]}, "legend": null}}},
  {"data": {"values": [{"x": 0, "y": 0}]}, "mark": {"type": "point", "shape": "circle", "filled": false, "fill": "#ffffff", "stroke": "#b8252b", "strokeWidth": 2.5, "size": 90, "opacity": 1},
   "encoding": {"x": {"field": "x", "type": "quantitative"}, "y": {"field": "y", "type": "quantitative"}}}
 ]
},
{
 "width": 307, "height": 307,
 "title": {"text": "MAN-O-WAR"},
 "layer": [
  {"data": {"values": [{"v": 0}]}, "mark": {"type": "rule", "color": "#c1272d", "strokeWidth": 2.5},
   "encoding": {"x": {"field": "v", "type": "quantitative", "scale": {"domain": [-4, 4], "nice": false, "zero": false}, "axis": {"values": [-3, -2, -1, 0, 1, 2, 3]}}}},
  {"data": {"values": [{"v": 0}]}, "mark": {"type": "rule", "color": "#c1272d", "strokeWidth": 2.5},
   "encoding": {"y": {"field": "v", "type": "quantitative", "scale": {"domain": [-2, 6], "nice": false, "zero": false}, "axis": {"values": [-1, 0, 1, 2, 3, 4, 5]}}}},
  {"data": {"values": [{"x1": 0, "x2": 1.34, "y1": 0, "y2": 1.98, "k": "y"}, {"x1": 0, "x2": 0.1, "y1": 0, "y2": 3.0, "k": "y"}, {"x1": 0, "x2": 2.4, "y1": 0, "y2": 0.08, "k": "y"}, {"x1": 0, "x2": 0.06, "y1": 3.0, "y2": 5.9, "k": "o"}]},
   "mark": {"type": "rect", "opacity": 1},
   "encoding": {"x": {"field": "x1", "type": "quantitative"}, "x2": {"field": "x2"}, "y": {"field": "y1", "type": "quantitative"}, "y2": {"field": "y2"},
    "color": {"field": "k", "type": "nominal", "scale": {"domain": ["b", "o", "y"], "range": ["#6ec3e6", "#eca12e", "#d3d548"]}, "legend": null}}},
  {"data": {"name": "p3"}, "mark": {"type": "circle", "size": 20, "opacity": 1},
   "encoding": {"x": {"field": "x", "type": "quantitative"}, "y": {"field": "y", "type": "quantitative"},
    "color": {"field": "c", "type": "nominal", "scale": {"domain": ["b", "o", "y"], "range": ["#6ec3e6", "#eca12e", "#d3d548"]}, "legend": null}}},
  {"data": {"values": [{"x": 0, "y": 0}]}, "mark": {"type": "point", "shape": "circle", "filled": false, "fill": "#ffffff", "stroke": "#b8252b", "strokeWidth": 2.5, "size": 90, "opacity": 1},
   "encoding": {"x": {"field": "x", "type": "quantitative"}, "y": {"field": "y", "type": "quantitative"}}}
 ]
}
]
}
